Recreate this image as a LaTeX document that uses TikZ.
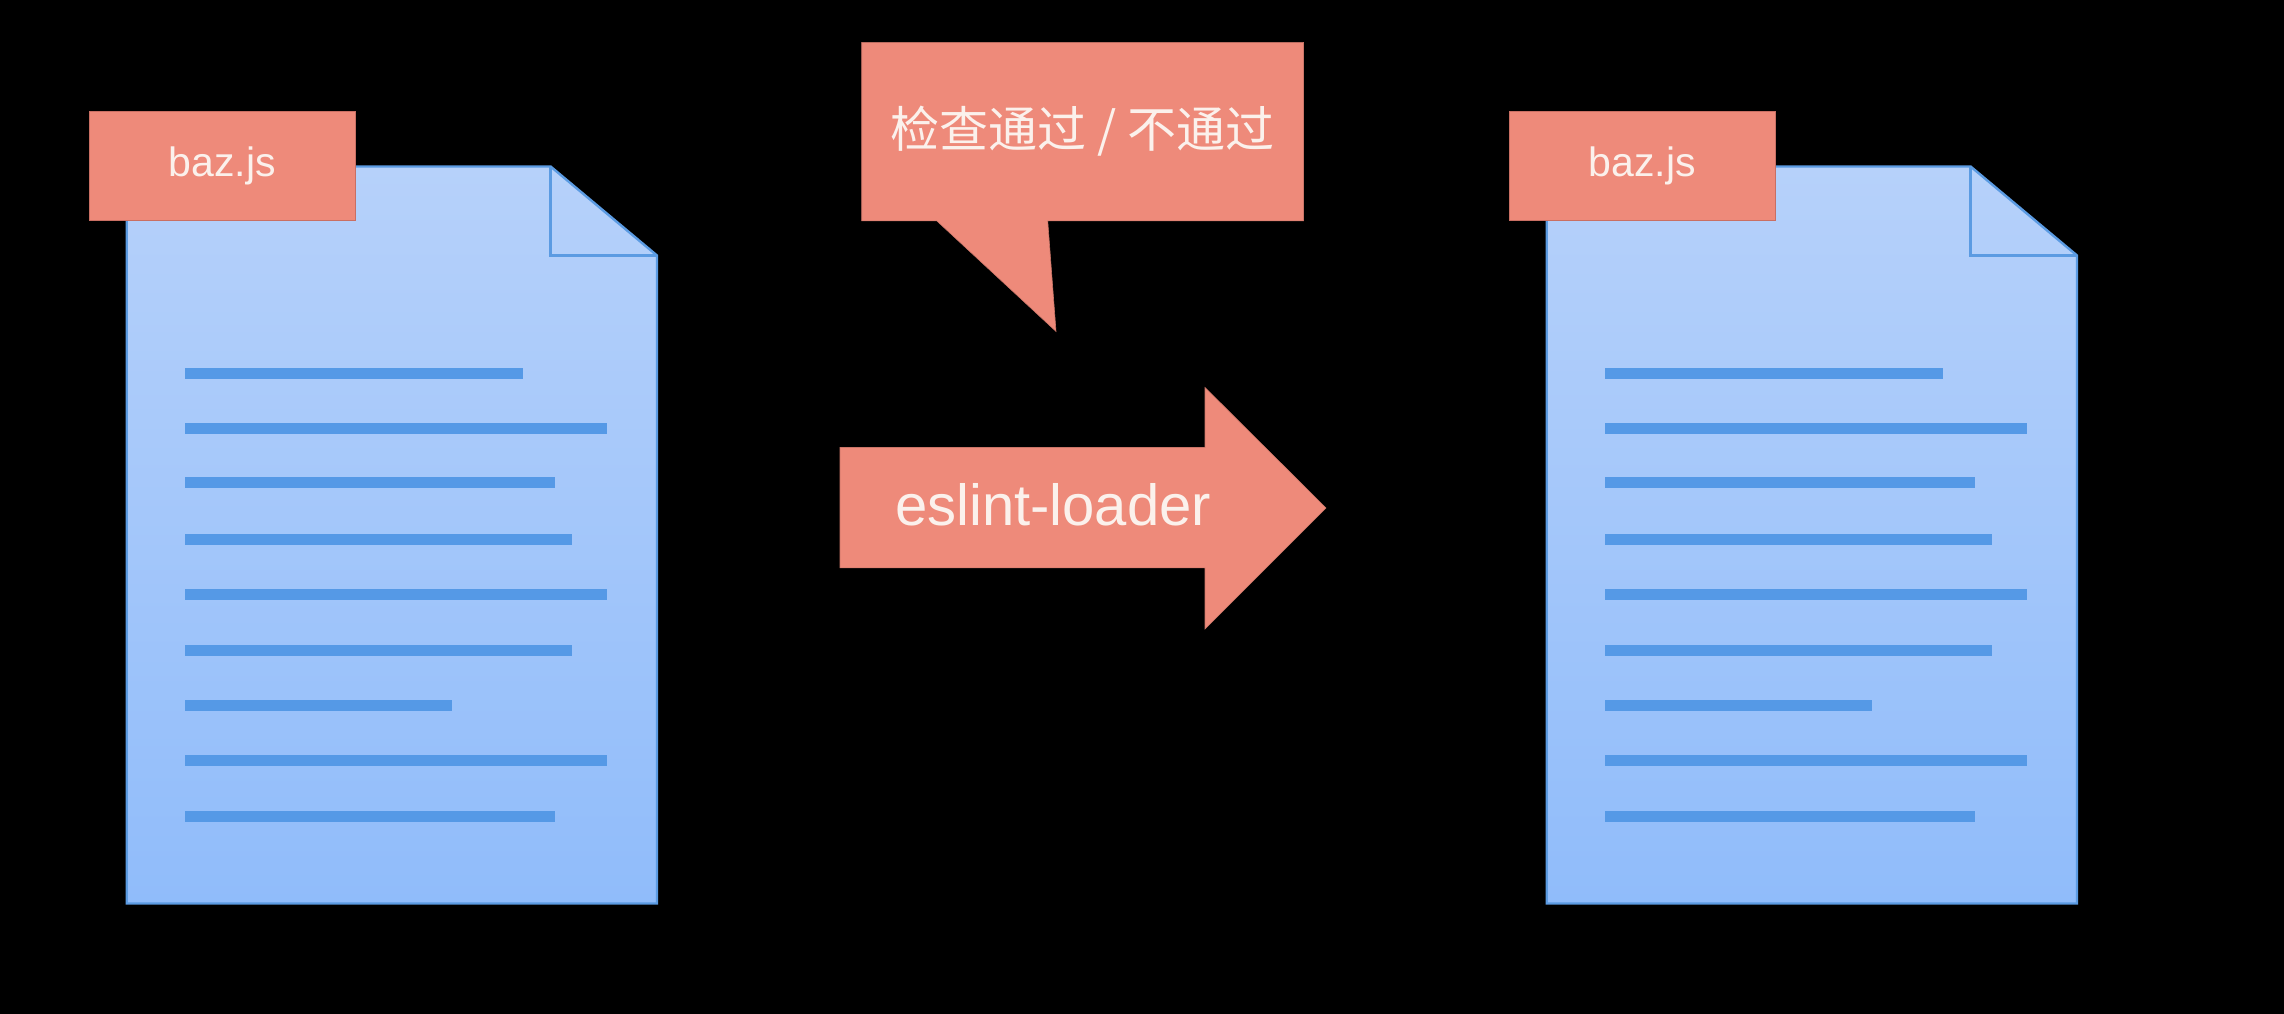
\documentclass[tikz,border=0pt]{standalone}
\usepackage{fontspec}
\usepackage{tikz}
\setmainfont{Liberation Sans}
\newfontfamily\cjkfont{Noto Sans CJK SC}
\definecolor{salmon}{HTML}{EE8A7A}
\definecolor{salmonedge}{HTML}{C96F63}
\definecolor{pagetop}{HTML}{B6D1FA}
\definecolor{pagebottom}{HTML}{90BCFA}
\definecolor{pageedge}{HTML}{5B9BE2}
\definecolor{rowblue}{HTML}{5599E6}
\definecolor{labeltext}{HTML}{FBF1EC}

\begin{document}
\begin{tikzpicture}[x=1pt, y=-1pt,
            page/.style = {top color=pagetop, bottom color=pagebottom,
                                draw=pageedge, line width=2.4pt, line join=miter},
            row/.style = {draw=rowblue, line width=11.5pt},
            tag/.style = {shape=rectangle, draw=salmonedge, line width=1pt,
                                fill=salmon, text=labeltext, align=center, inner sep=0pt,
                                minimum width=266.6pt, minimum height=109.3pt,
                                font=\fontsize{41}{48}\selectfont},
            banner/.style = {fill=salmon, draw=salmon!85!black, line width=.6pt}]
            \useasboundingbox (0,0) rectangle (2284,1014);
            \fill[black] (0,0) rectangle (2284,1014);
            % the two files
            \foreach \shift/\name in {0/left, 1420/right}{
                \begin{scope}[xshift=\shift pt]
                    \draw[page] (126.7,166.5) -- (550.6,166.5) -- (657,255.5) -- (657,903.5) -- (126.7,903.5) -- cycle;
                    \draw[draw=pageedge, line width=2.4pt] (550.6,166.5) -- (550.6,255.5) -- (657,255.5);
                    \foreach \y/\xend in {373.7/523, 428.7/607, 482.7/555, 539.7/572, 594.7/607, 650.7/572, 705.7/451.5, 760.7/607, 816.7/555}{
                        \draw[row] (185,\y) -- (\xend,\y);
                    }
                \end{scope}
                \node[tag] (tag\name) at (222.4+\shift,165.8) {baz.js};
            }
            % what the loader reports
            \draw[banner] (861.7,42.4) -- (1303.5,42.4) -- (1303.5,220.8) -- (1047.7,220.8)
                -- (1056,331.4) -- (936.7,220.8) -- (861.7,220.8) -- cycle;
            \node[text=labeltext, inner sep=0pt] (report) at (1082.5,131)
                {\fontsize{49}{56}\selectfont\cjkfont 检查通过 / 不通过};
            % the loader
            \draw[banner] (840,447.5) -- (1205,447.5) -- (1205,387.5) -- (1326,508)
                -- (1205,629) -- (1205,567.8) -- (840,567.8) -- cycle;
            \node[text=labeltext, inner sep=0pt] (loader) at (1053,505)
                {\fontsize{58}{68}\selectfont eslint-loader};
        \end{tikzpicture}
\end{document}
